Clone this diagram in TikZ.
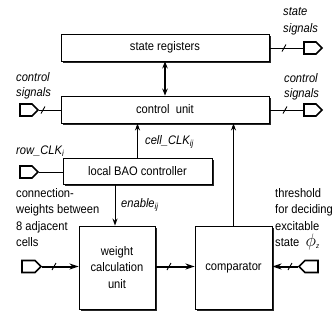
\documentclass[tikz,border=0pt]{standalone}
\usepackage{graphicx}
\usepackage{fontspec}
\setmainfont[FakeStretch=0.9]{Liberation Sans}
\usetikzlibrary{arrows.meta,shapes.symbols,shadows,calc}
\begin{document}
\begin{tikzpicture}[x=1pt,y=-1pt,
  every node/.style={font=\fontsize{12.4}{16.5}\selectfont, inner sep=0pt},
  blk/.style={draw, line width=0.9pt, fill=white,
    drop shadow={shadow xshift=1.6pt, shadow yshift=-1.6pt, fill=black!85, opacity=1}},
  port/.style={signal, draw, line width=1.6pt, fill=white, minimum width=18pt,
    minimum height=12pt, signal pointer angle=90},
  ln/.style={line width=0.9pt},
  bus/.style={line width=2pt},
  arr/.style={-{Stealth[length=7pt,width=5pt]}},
  darr/.style={{Stealth[length=7pt,width=5.5pt]}-{Stealth[length=7pt,width=5.5pt]}, line width=1.1pt},
  busarr/.style={-{Stealth[length=9pt,width=6pt]}},
  lab/.style={font=\fontsize{12.4}{16.5}\selectfont\itshape, align=left},
  txt/.style={align=left}
]
\useasboundingbox (0,0) rectangle (333,322);

% blocks
\node[blk, minimum width=208pt, minimum height=27pt] (sr) at (165,47.5) {state registers};
\node[blk, minimum width=208pt, minimum height=27pt] (ctl) at (165,109.5) {control\ \ unit};
\node[blk, minimum width=149pt, minimum height=26pt] (bao) at (137.5,171) {local BAO controller};
\node[blk, minimum width=76pt, minimum height=83pt, align=center] (wcu) at (117,267.5) {weight\\calculation\\unit};
\node[blk, minimum width=77pt, minimum height=83pt] (cmp) at (233.5,267.5) {comparator};

% ports
\node[port, signal to=east] (pctlin) at (26,110) {};
\node[port, signal to=east] (pstate) at (310,48) {};
\node[port, signal to=east] (pctlout) at (310,110) {};
\node[port, signal to=east] (prow) at (26,172) {};
\node[port, signal to=east, minimum width=19pt] (pw) at (28.5,266.5) {};
\node[port, signal to=west, minimum width=19pt] (pth) at (311.5,266.5) {};

% labels
\node[lab, anchor=west] (l1) at (283,12) {state};
\node[lab, anchor=west] (l2) at (283,29) {signals};
\node[lab, anchor=west] (l3) at (284,78) {control};
\node[lab, anchor=west] (l4) at (284,94) {signals};
\node[lab, anchor=west] (l5) at (16,77) {control};
\node[lab, anchor=west] (l6) at (16,93) {signals};
\node[lab, anchor=west] (l7) at (16,151) {row\_CLK\textsubscript{i}};
\node[lab, anchor=west] (l8) at (145,142) {cell\_CLK\textsubscript{ij}};
\node[lab, anchor=west] (l9) at (121,205) {enable\textsubscript{ij}};
\node[txt, anchor=north west] (t1) at (16,188) {connection-\\weights between\\8 adjacent\\cells};
\node[txt, anchor=north west] (t2) at (275,188) {threshold\\for deciding\\excitable\\state\ \ \scalebox{1.5}{$\phi$}\raisebox{-2pt}{\fontsize{7}{7}\selectfont\itshape z}};

% connectors
\coordinate (ex) at (115,0);
\draw[darr] (sr.south) -- (sr.south |- ctl.north);
\draw[ln] (pctlin.east) -- (pctlin.east -| ctl.west);
\draw[ln] (sr.east |- pstate.west) -- (pstate.west);
\draw[ln] (ctl.east |- pctlout.west) -- (pctlout.west);
\draw[ln] (prow.east) -- (prow.east -| bao.west);
\draw[ln, arr] (bao.north) -- (bao.north |- ctl.south);
\draw[ln, arr] (cmp.north) -- (cmp.north |- ctl.south);
\draw[ln, arr] (bao.south -| ex) -- (wcu.north -| ex);
\draw[bus, busarr] (pw.east) -- (pw.east -| wcu.west);
\draw[bus, busarr] (wcu.east |- pw.east) -- (cmp.west |- pw.east);
\draw[bus, busarr] (pth.west) -- (pth.west -| cmp.east);

% slashes
\draw[ln] (43,110) ++(-2,3.5) -- ++(4,-7);
\draw[ln] (284,48) ++(-2,3.5) -- ++(4,-7);
\draw[ln] (285,110) ++(-2,3.5) -- ++(4,-7);
\draw[ln] (54,266.5) ++(-2,3.5) -- ++(4,-7);
\draw[ln] (169,266.5) ++(-2,3.5) -- ++(4,-7);
\draw[ln] (290,266.5) ++(-2,3.5) -- ++(4,-7);
\end{tikzpicture}
\end{document}
